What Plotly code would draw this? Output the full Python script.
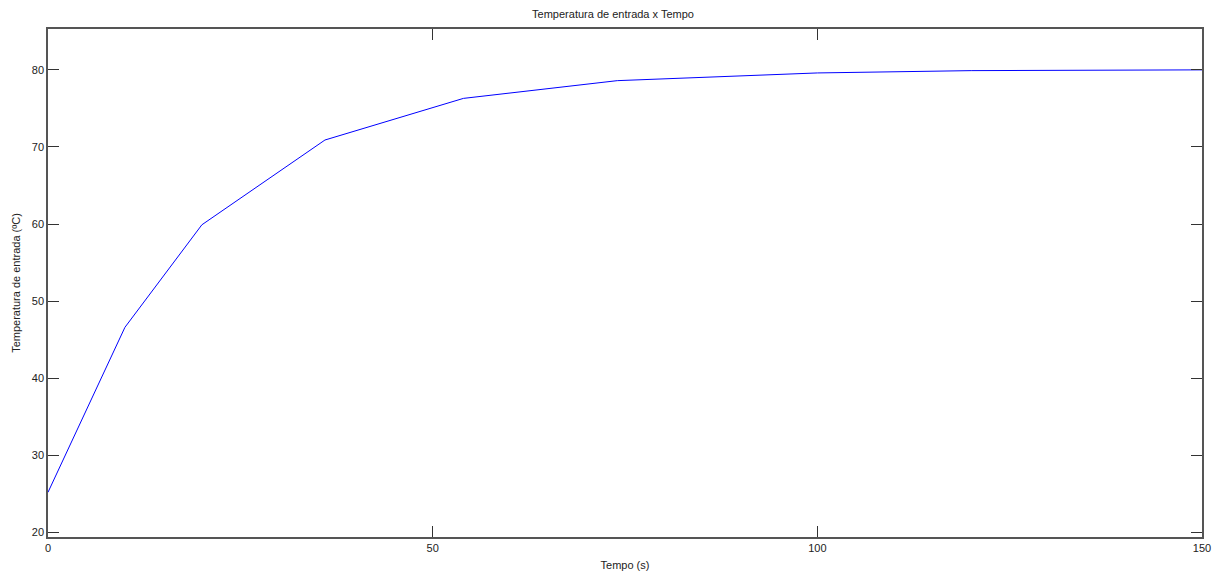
import plotly.graph_objects as go

tempo = [0, 10, 20, 36, 54, 74, 100, 120, 150]
temperatura = [25.2, 46.6, 59.9, 70.9, 76.3, 78.6, 79.6, 79.9, 80.0]

x_ticks = [0, 50, 100, 150]
y_ticks = [20, 30, 40, 50, 60, 70, 80]

fig = go.Figure()
fig.add_trace(go.Scatter(x=tempo, y=temperatura, mode="lines",
                         line=dict(color="#0000ff", width=1), showlegend=False))

font = dict(family="Liberation Sans, Arial, sans-serif", size=11, color="#222222")

fig.update_layout(
    width=1226, height=576,
    margin=dict(l=48, r=24, t=29, b=39),
    paper_bgcolor="white", plot_bgcolor="white",
    font=font,
    title=dict(text="Temperatura de entrada x Tempo", x=0.5, xanchor="center",
               y=1 - 14 / 576, yanchor="middle", font=dict(size=11, color="#222222")),
)
fig.update_xaxes(
    range=[0, 150], tickvals=x_ticks, ticktext=[str(v) for v in x_ticks],
    showgrid=False, zeroline=False, automargin=False,
    showline=True, linecolor="#555555", linewidth=1.5, mirror="ticks",
    ticks="inside", ticklen=11, tickcolor="#333333", tickwidth=1,
    title=dict(text="Tempo (s)", standoff=8, font=dict(size=11)),
)
fig.update_yaxes(
    range=[19.4, 85.3], tickvals=y_ticks, ticktext=[str(v) for v in y_ticks],
    showgrid=False, zeroline=False, automargin=False,
    showline=True, linecolor="#555555", linewidth=1.5, mirror="ticks",
    ticks="inside", ticklen=11, tickcolor="#333333", tickwidth=1,
    title=dict(text="Temperatura de entrada (ºC)", standoff=9, font=dict(size=11)),
)

fig.write_html("out.html")
